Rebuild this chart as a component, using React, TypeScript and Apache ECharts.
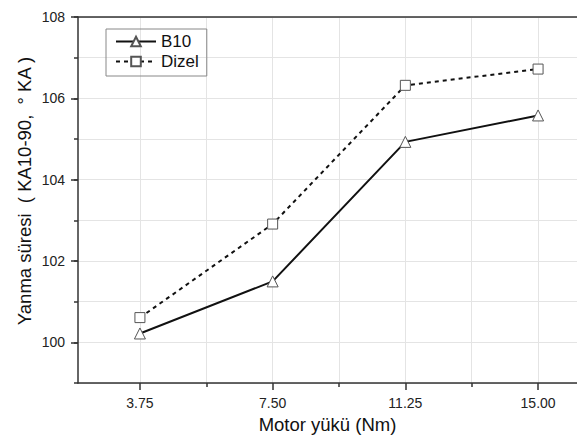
import React, { useEffect, useRef } from "react";
import * as echarts from "echarts";

const loads = [3.75, 7.5, 11.25, 15.0];
const b10 = [100.22, 101.5, 104.93, 105.58];
const dizel = [100.61, 102.91, 106.32, 106.72];
const xMajorTicks = [3.75, 7.5, 11.25, 15.0];
const xMinorTicks = [5.625, 9.375, 13.125];
const yMajorTicks = [100, 102, 104, 106, 108];

const FONT = "Liberation Sans, Arial, sans-serif";

export default function App() {
  const ref = useRef<HTMLDivElement>(null);
  useEffect(() => {
    if (!ref.current) return;
    const chart = echarts.init(ref.current, undefined, { renderer: "svg" });
    const axisLineStyle = { color: "#333", width: 1.5 };
    const gridLine = { show: true, lineStyle: { color: "#e4e4e4", width: 1 } };
    chart.setOption({
      animation: false,
      textStyle: { fontFamily: FONT },
      grid: { left: 78, top: 17, width: 509, height: 371, containLabel: false },
      legend: {
        left: 106,
        top: 29,
        orient: "vertical",
        itemWidth: 40,
        itemHeight: 12,
        itemGap: 3,
        padding: [4, 8, 6, 9],
        borderColor: "#888",
        borderWidth: 1,
        textStyle: { fontFamily: FONT, fontSize: 17, color: "#111" },
        data: ["B10", "Dizel"],
      },
      xAxis: [
        {
          type: "value",
          min: 2,
          max: 16.1,
          position: "bottom",
          axisLine: { show: true, onZero: false, lineStyle: axisLineStyle },
          axisTick: { show: true, length: 7, customValues: xMajorTicks, lineStyle: axisLineStyle },
          axisLabel: {
            customValues: xMajorTicks,
            margin: 13,
            fontSize: 14,
            color: "#222",
            fontFamily: FONT,
            formatter: (v: number) => v.toFixed(2),
          },
          splitLine: gridLine,
          name: "Motor yükü (Nm)",
          nameLocation: "middle",
          nameGap: 29,
          nameTextStyle: { fontSize: 18.5, color: "#111", fontFamily: FONT },
        },
        {
          type: "value",
          min: 2,
          max: 16.1,
          position: "bottom",
          axisLine: { show: false },
          axisTick: { show: true, length: 4, customValues: xMinorTicks, lineStyle: axisLineStyle },
          axisLabel: { show: false },
          splitLine: gridLine,
        },
        {
          type: "value",
          min: 2,
          max: 16.1,
          position: "top",
          axisLine: { show: true, onZero: false, lineStyle: axisLineStyle },
          axisTick: { show: false },
          axisLabel: { show: false },
          splitLine: { show: false },
        },
      ],
      yAxis: [
        {
          type: "value",
          min: 99,
          max: 108,
          interval: 1,
          position: "left",
          axisLine: { show: true, onZero: false, lineStyle: axisLineStyle },
          axisTick: { show: true, length: 4, lineStyle: axisLineStyle },
          axisLabel: { show: false },
          splitLine: gridLine,
          name: "Yanma süresi  ( KA10-90,  ° KA )",
          nameLocation: "middle",
          nameGap: 44,
          nameTextStyle: { fontSize: 18.5, color: "#111", fontFamily: FONT, padding: [0, 0, 0, 18] },
        },
        {
          type: "value",
          min: 99,
          max: 108,
          interval: 1,
          position: "left",
          axisLine: { show: false },
          axisTick: { show: true, length: 7, customValues: yMajorTicks, lineStyle: axisLineStyle },
          axisLabel: {
            customValues: yMajorTicks,
            margin: 13,
            fontSize: 14,
            color: "#222",
            fontFamily: FONT,
          },
          splitLine: { show: false },
        },
      ],
      series: [
        {
          name: "B10",
          type: "line",
          xAxisIndex: 0,
          yAxisIndex: 0,
          data: loads.map((x, i) => [x, b10[i]]),
          symbol: "triangle",
          symbolSize: 11,
          lineStyle: { color: "#111", width: 2, type: "solid" },
          itemStyle: { color: "#fff", borderColor: "#555", borderWidth: 1 },
          z: 3,
        },
        {
          name: "Dizel",
          type: "line",
          xAxisIndex: 0,
          yAxisIndex: 0,
          data: loads.map((x, i) => [x, dizel[i]]),
          symbol: "rect",
          symbolSize: 10,
          lineStyle: { color: "#111", width: 2, type: [4, 4] },
          itemStyle: { color: "#fff", borderColor: "#555", borderWidth: 1 },
          z: 3,
        },
      ],
    });
    return () => chart.dispose();
  }, []);
  return (
    <div
      ref={ref}
      style={{ position: "absolute", left: 0, top: 0, width: 577, height: 439, background: "#fff" }}
    />
  );
}
